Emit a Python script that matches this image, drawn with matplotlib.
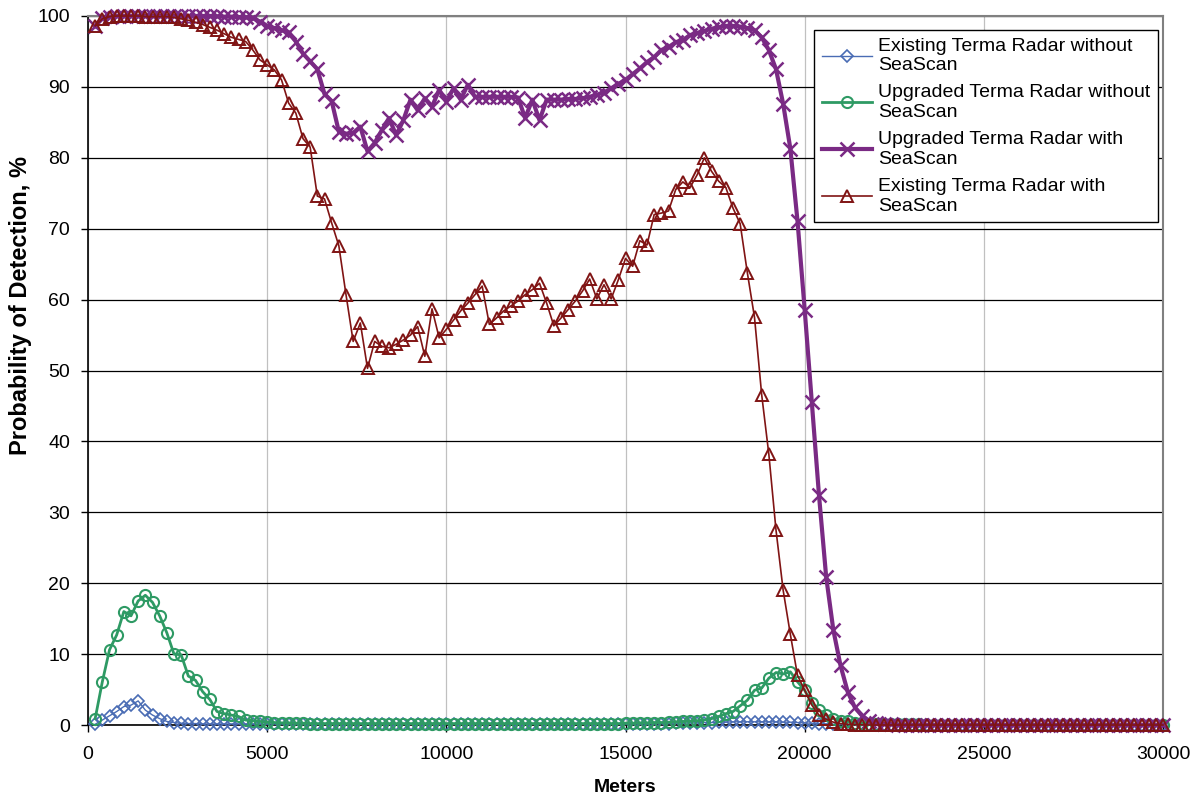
import matplotlib
matplotlib.use("Agg")
import matplotlib.pyplot as plt

plt.rcParams['font.family'] = ['Liberation Sans', 'DejaVu Sans']

# Range samples (m)
meters = list(range(200, 30001, 200))

existing_without = [
    0.1, 0.7, 1.3, 1.9, 2.6, 2.8, 3.4, 2.1, 1.4, 0.9,
    0.5, 0.35, 0.25, 0.2, 0.2, 0.15, 0.15, 0.15, 0.15, 0.15,
    0.15, 0.15, 0.15, 0.15, 0.15, 0.15, 0.15, 0.15, 0.15, 0.15,
    0.15, 0.15, 0.15, 0.15, 0.15, 0.15, 0.15, 0.15, 0.15, 0.15,
    0.15, 0.15, 0.15, 0.15, 0.15, 0.15, 0.15, 0.15, 0.15, 0.15,
    0.15, 0.15, 0.15, 0.15, 0.15, 0.15, 0.15, 0.15, 0.15, 0.15,
    0.15, 0.15, 0.15, 0.15, 0.15, 0.15, 0.15, 0.15, 0.15, 0.15,
    0.15, 0.15, 0.15, 0.15, 0.15, 0.15, 0.15, 0.15, 0.2, 0.2,
    0.2, 0.25, 0.25, 0.3, 0.3, 0.35, 0.35, 0.4, 0.4, 0.45,
    0.45, 0.45, 0.45, 0.45, 0.45, 0.45, 0.4, 0.4, 0.35, 0.3,
    0.25, 0.2, 0.15, 0.1, 0.1, 0.08, 0.06, 0.05, 0.05, 0.05,
    0.04, 0.04, 0.04, 0.04, 0.04, 0.04, 0.04, 0.04, 0.04, 0.04,
    0.03, 0.03, 0.03, 0.03, 0.03, 0.03, 0.03, 0.03, 0.03, 0.03,
    0.03, 0.03, 0.03, 0.03, 0.03, 0.03, 0.03, 0.03, 0.03, 0.03,
    0.03, 0.03, 0.03, 0.03, 0.03, 0.03, 0.03, 0.03, 0.03, 0.03,
]

upgraded_without = [
    0.9, 6.1, 10.6, 12.7, 16.0, 15.4, 17.5, 18.3, 17.3, 15.4,
    13.0, 10.0, 9.9, 6.9, 6.3, 4.7, 3.6, 1.9, 1.6, 1.4,
    1.2, 0.7, 0.6, 0.5, 0.4, 0.35, 0.3, 0.3, 0.25, 0.25,
    0.2, 0.2, 0.2, 0.2, 0.2, 0.2, 0.2, 0.2, 0.2, 0.2,
    0.2, 0.2, 0.2, 0.2, 0.2, 0.2, 0.2, 0.2, 0.2, 0.2,
    0.2, 0.2, 0.2, 0.2, 0.2, 0.2, 0.2, 0.2, 0.2, 0.2,
    0.2, 0.2, 0.2, 0.2, 0.2, 0.2, 0.2, 0.2, 0.2, 0.2,
    0.2, 0.2, 0.2, 0.2, 0.25, 0.25, 0.3, 0.3, 0.35, 0.35,
    0.4, 0.45, 0.5, 0.55, 0.6, 0.7, 0.9, 1.2, 1.6, 1.9,
    2.7, 3.5, 4.9, 5.2, 6.6, 7.4, 7.2, 7.5, 6.1, 4.9,
    3.1, 2.1, 1.4, 0.9, 0.6, 0.5, 0.35, 0.25, 0.2, 0.15,
    0.1, 0.1, 0.1, 0.08, 0.08, 0.08, 0.06, 0.06, 0.06, 0.05,
    0.05, 0.05, 0.05, 0.05, 0.05, 0.05, 0.05, 0.05, 0.05, 0.05,
    0.05, 0.05, 0.05, 0.05, 0.05, 0.05, 0.05, 0.05, 0.05, 0.05,
    0.05, 0.05, 0.05, 0.05, 0.05, 0.05, 0.05, 0.05, 0.05, 0.05,
]

upgraded_with = [
    98.6, 99.7, 99.9, 100.0, 100.0, 100.0, 100.0, 100.0, 100.0, 100.0,
    100.0, 100.0, 100.0, 100.0, 100.0, 100.0, 100.0, 99.95, 99.9, 99.9,
    99.85, 99.8, 99.7, 99.2, 98.6, 98.3, 98.0, 97.7, 96.4, 94.7,
    93.6, 92.5, 89.0, 88.0, 83.7, 83.4, 83.5, 84.4, 80.9, 82.1,
    83.9, 85.6, 83.2, 85.3, 88.2, 86.7, 88.4, 87.2, 89.6, 87.9,
    89.8, 88.2, 90.3, 88.6, 88.6, 88.6, 88.6, 88.6, 88.6, 88.5,
    85.6, 88.2, 85.3, 88.2, 88.2, 88.2, 88.3, 88.3, 88.4, 88.6,
    88.9, 89.2, 89.8, 90.4, 91.0, 91.8, 92.6, 93.5, 94.2, 95.2,
    95.6, 96.3, 96.6, 97.3, 97.6, 97.9, 98.2, 98.4, 98.6, 98.6,
    98.5, 98.3, 98.0, 97.0, 95.2, 92.5, 87.6, 81.3, 71.1, 58.6,
    45.5, 32.4, 20.9, 13.4, 8.4, 4.7, 2.5, 1.3, 0.6, 0.3,
    0.15, 0.1, 0.05, 0.03, 0.02, 0.01, 0.0, 0.0, 0.0, 0.0,
    0.0, 0.0, 0.0, 0.0, 0.0, 0.0, 0.0, 0.0, 0.0, 0.0,
    0.0, 0.0, 0.0, 0.0, 0.0, 0.0, 0.0, 0.0, 0.0, 0.0,
    0.0, 0.0, 0.0, 0.0, 0.0, 0.0, 0.0, 0.0, 0.0, 0.0,
]

existing_with = [
    98.6, 99.6, 99.9, 100.0, 100.0, 100.0, 100.0, 99.9, 99.9, 99.9,
    99.9, 99.8, 99.6, 99.4, 99.1, 98.8, 98.4, 98.0, 97.5, 97.0,
    96.7, 96.4, 95.2, 93.8, 93.1, 92.4, 91.0, 87.7, 86.3, 82.7,
    81.5, 74.6, 74.2, 70.8, 67.6, 60.7, 54.1, 56.7, 50.3, 54.1,
    53.4, 53.2, 53.7, 54.3, 55.0, 56.2, 52.0, 58.7, 54.6, 55.8,
    57.1, 58.4, 59.5, 60.7, 61.9, 56.5, 57.4, 58.4, 59.1, 59.8,
    60.7, 61.4, 62.3, 59.5, 56.3, 57.4, 58.6, 59.8, 61.2, 62.9,
    60.1, 62.1, 60.1, 62.8, 65.8, 64.7, 68.3, 67.7, 72.0, 72.2,
    72.5, 75.5, 76.6, 75.8, 77.6, 80.0, 78.1, 76.7, 75.8, 72.9,
    70.7, 63.8, 57.5, 46.6, 38.2, 27.5, 19.0, 12.8, 7.0, 4.9,
    2.8, 1.4, 0.8, 0.4, 0.2, 0.1, 0.05, 0.02, 0.0, 0.0,
    0.0, 0.0, 0.0, 0.0, 0.0, 0.0, 0.0, 0.0, 0.0, 0.0,
    0.0, 0.0, 0.0, 0.0, 0.0, 0.0, 0.0, 0.0, 0.0, 0.0,
    0.0, 0.0, 0.0, 0.0, 0.0, 0.0, 0.0, 0.0, 0.0, 0.0,
    0.0, 0.0, 0.0, 0.0, 0.0, 0.0, 0.0, 0.0, 0.0, 0.0,
]

series_labels = [
    "Existing Terma Radar without\nSeaScan",
    "Upgraded Terma Radar without\nSeaScan",
    "Upgraded Terma Radar with\nSeaScan",
    "Existing Terma Radar with\nSeaScan",
]

x_ticks = [0, 5000, 10000, 15000, 20000, 25000, 30000]
y_ticks = [0, 10, 20, 30, 40, 50, 60, 70, 80, 90, 100]

W, H = 1196, 796
fig = plt.figure(figsize=(W / 100, H / 100), dpi=100)
ax = fig.add_axes([88 / W, 71 / H, 1075 / W, 709 / H])

styles = [
    dict(color="#4a6cb4", lw=1.0, marker="D", ms=6.5, mew=1.2),
    dict(color="#2e9a64", lw=2.0, marker="o", ms=8.0, mew=1.5),
    dict(color="#7a2a84", lw=3.0, marker="x", ms=9.5, mew=1.8),
    dict(color="#801414", lw=1.2, marker="^", ms=8.0, mew=1.4),
]
series = [existing_without, upgraded_without, upgraded_with, existing_with]

for vals, lab, st in zip(series, series_labels, styles):
    ax.plot(meters, vals, color=st["color"], lw=st["lw"], marker=st["marker"],
            ms=st["ms"], mew=st["mew"], mfc="none", mec=st["color"],
            label=lab, clip_on=False, zorder=3)

ax.set_xlim(0, 30000)
ax.set_ylim(0, 100)
ax.set_xticks(x_ticks)
ax.set_yticks(y_ticks)
ax.tick_params(axis="both", direction="out", length=5, width=1.0,
               labelsize=14, colors="black")
ax.tick_params(axis="x", pad=10)
ax.tick_params(axis="y", pad=8)

ax.yaxis.grid(True, color="black", lw=0.9, zorder=1)
ax.xaxis.grid(True, color="#c0c0c0", lw=0.9, zorder=1)
ax.set_axisbelow(True)

for side in ("top", "right"):
    ax.spines[side].set_color("#808080")
    ax.spines[side].set_linewidth(1.5)
for side in ("left", "bottom"):
    ax.spines[side].set_color("black")
    ax.spines[side].set_linewidth(1.2)

ax.set_xlabel("Meters", fontsize=14, fontweight="bold", labelpad=12)
ax.set_ylabel("Probability of Detection, %", fontsize=17, fontweight="bold")
ax.yaxis.set_label_coords(-0.052, 0.592)

leg = ax.legend(loc="upper right", bbox_to_anchor=(1158 / W, 1 - 30 / H),
                bbox_transform=fig.transFigure, frameon=True, fancybox=False,
                edgecolor="black", framealpha=1, fontsize=14, numpoints=1,
                handlelength=2.6, handletextpad=0.3, borderpad=0.4,
                labelspacing=0.52, borderaxespad=0)
leg.get_frame().set_linewidth(1.0)

fig.savefig("out.png", dpi=100, facecolor="white")
